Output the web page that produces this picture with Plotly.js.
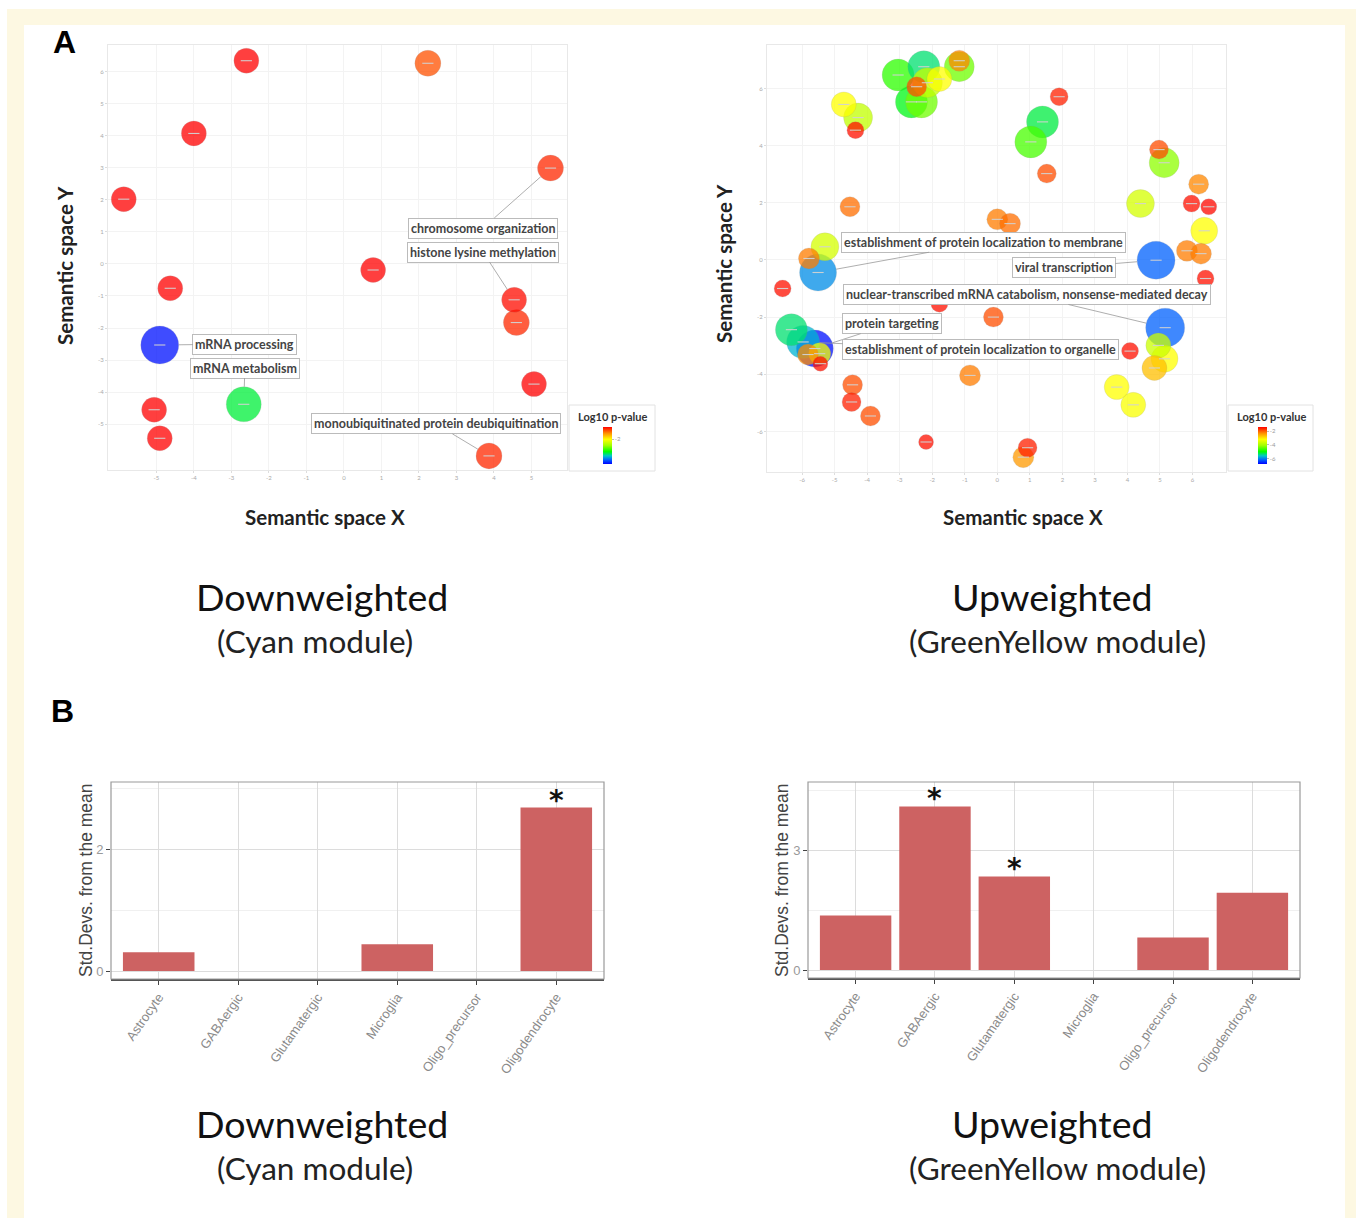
<!DOCTYPE html>
<html><head><meta charset="utf-8">
<script src="https://cdn.plot.ly/plotly-3.0.1.min.js"></script>
<style>html,body{margin:0;padding:0;background:#fff;} #chart{width:1356px;height:1218px;}</style>
</head><body><div id="chart"></div>
<script>
// ---------- Panel A, left: Downweighted (Cyan module) REVIGO terms ----------
const downX = [-2.60, 2.24, -4.00, 5.51, -5.87, 0.78, -4.63, 4.54, 4.60, -4.91, 5.07, -2.67, -5.06, -4.91, 3.87];
const downY = [6.34, 6.26, 4.07, 2.99, 2.02, -0.19, -0.76, -1.12, -1.83, -2.53, -3.75, -4.38, -4.55, -5.44, -5.99];
const downLogP = [-1.3, -1.5, -1.3, -1.4, -1.3, -1.3, -1.3, -1.33, -1.4, -3.36, -1.3, -2.77, -1.3, -1.3, -1.4];
const downLogSize = [2.5, 2.6, 2.5, 2.6, 2.5, 2.5, 2.5, 2.5, 2.6, 3.8, 2.5, 3.5, 2.5, 2.5, 2.6];
const downLabels = ["chromosome organization", "histone lysine methylation", "mRNA processing", "mRNA metabolism", "monoubiquitinated protein deubiquitination"];
const downLabelIdx = [3, 7, 9, 11, 14];

// ---------- Panel A, right: Upweighted (GreenYellow module) REVIGO terms ----------
const upX = [-3.05, -2.26, -1.17, -1.17, -1.78, -2.15, -2.48, -2.64, -2.33, -4.72, -4.28, -4.36, 1.90, 1.39, 1.03, 1.52, 4.97, 5.13, 6.19, 5.97, 6.50, 4.40, -4.53, 0.00, 0.39, 6.36, -5.30, -5.79, -5.51, 4.88, 5.83, 6.26, 6.40, -6.60, -1.78, -0.12, 5.16, -6.33, -5.97, -5.61, -5.82, -5.46, -5.44, 4.08, 4.95, 5.14, 4.83, -0.84, -4.45, -4.48, -3.90, 3.67, 4.18, -2.19, 0.93, 0.80];
const upY = [6.47, 6.76, 6.76, 6.97, 6.33, 6.20, 6.06, 5.53, 5.53, 5.44, 4.98, 4.54, 5.71, 4.83, 4.13, 3.02, 3.86, 3.40, 2.65, 1.97, 1.86, 1.97, 1.86, 1.42, 1.27, 1.02, 0.46, 0.05, -0.44, -0.01, 0.32, 0.22, -0.65, -1.00, -1.53, -2.00, -2.37, -2.44, -2.87, -3.10, -3.31, -3.28, -3.63, -3.19, -2.99, -3.46, -3.78, -4.04, -4.37, -4.97, -5.46, -4.45, -5.07, -6.37, -6.57, -6.90];
const upLogP = [-4.75, -5.34, -4.37, -2.26, -3.2, -3.78, -1.89, -5.07, -4.37, -3.2, -3.78, -1.5, -1.6, -5.2, -4.6, -1.89, -1.89, -4.2, -2.26, -1.5, -1.45, -3.6, -2.1, -2.2, -2.1, -3.2, -3.6, -2.2, -5.95, -6.2, -2.2, -2.2, -1.5, -1.5, -1.5, -1.9, -6.2, -5.34, -5.72, -6.7, -2.3, -3.3, -1.5, -1.5, -3.7, -3.2, -2.7, -2.2, -1.9, -1.6, -1.9, -3.2, -3.25, -1.5, -1.6, -2.4];
const upLogSize = [3.2, 3.2, 3.0, 2.1, 2.5, 3.0, 2.0, 3.2, 3.2, 2.5, 2.9, 1.7, 1.8, 3.2, 3.2, 1.9, 1.9, 3.0, 2.0, 1.7, 1.6, 2.8, 2.0, 2.1, 2.1, 2.7, 2.8, 2.1, 3.7, 3.8, 2.1, 2.1, 1.7, 1.7, 1.7, 2.0, 3.9, 3.2, 3.3, 3.7, 2.1, 2.2, 1.5, 1.7, 2.5, 2.7, 2.5, 2.1, 2.0, 1.9, 2.0, 2.5, 2.5, 1.5, 1.9, 2.1];
const upLabels = ["establishment of protein localization to membrane", "viral transcription", "nuclear-transcribed mRNA catabolism, nonsense-mediated decay", "protein targeting", "establishment of protein localization to organelle"];
const upLabelIdx = [28, 29, 36, 39, 38];

// ---------- Panel B: cell-type enrichment ----------
const cellTypes = ["Astrocyte", "GABAergic", "Glutamatergic", "Microglia", "Oligo_precursor", "Oligodendrocyte"];
const downSD = [0.31, 0, 0, 0.44, 0, 2.68];
const upSD = [1.36, 4.09, 2.34, 0, 0.81, 1.93];
const downSig = [false, false, false, false, false, true];
const upSig = [false, true, true, false, false, false];

// ---------- helpers (layout only) ----------
const W = 1356, H = 1218;
const px = v => v / W;
const py = v => 1 - v / H;
const SIZE_SCALE = 10;
const colorscale = [[0, '#0000ff'], [0.11, '#0060ff'], [0.22, '#00c8c8'], [0.333, '#00ff00'], [0.5, '#a0ff00'], [0.667, '#ffff00'], [0.83, '#ff9000'], [1, '#ff0000']];

function sortedBySize(xs, ys, ps, ss) {
  const idx = xs.map((_, i) => i).sort((a, b) => ss[b] - ss[a]);
  return {x: idx.map(i => xs[i]), y: idx.map(i => ys[i]), p: idx.map(i => ps[i]), s: idx.map(i => ss[i] * SIZE_SCALE)};
}
function bubbleTraces(d, xa, ya, cmin, cmax, cbx, ticks) {
  return [{
    type: 'scatter', mode: 'markers', x: d.x, y: d.y, xaxis: xa, yaxis: ya, hoverinfo: 'skip', showlegend: false,
    marker: {size: d.s, color: d.p, colorscale: colorscale, cmin: cmin, cmax: cmax, opacity: 0.75,
      line: {color: 'rgba(140,140,140,0.35)', width: 0.6},
      showscale: true,
      colorbar: {x: cbx, xanchor: 'left', y: py(445.5), yanchor: 'middle', len: 37, lenmode: 'pixels', thickness: 9,
        outlinewidth: 0, xpad: 0, ypad: 0, tickvals: ticks, ticktext: ticks.map(String), ticks: 'outside', ticklen: 2,
        tickcolor: '#bbb', tickfont: {size: 6, color: '#999', family: 'Lato'}, title: {text: ''}}}
  }, {
    type: 'scatter', mode: 'markers', x: d.x, y: d.y, xaxis: xa, yaxis: ya, hoverinfo: 'skip', showlegend: false,
    marker: {symbol: 'line-ew', size: 8, color: 'rgba(210,210,210,0.95)', line: {color: 'rgba(210,210,210,0.95)', width: 1.1}}
  }];
}

const dDown = sortedBySize(downX, downY, downLogP, downLogSize);
const dUp = sortedBySize(upX, upY, upLogP, upLogSize);

const traces = [
  ...bubbleTraces(dDown, 'x', 'y', -3.4, -1.3, px(603), [-2]),
  ...bubbleTraces(dUp, 'x2', 'y2', -6.8, -1.4, px(1258), [-2, -4, -6]),
  {type: 'bar', x: cellTypes, y: downSD, xaxis: 'x3', yaxis: 'y3', width: 0.9, marker: {color: '#cd6262'}, hoverinfo: 'skip', showlegend: false},
  {type: 'bar', x: cellTypes, y: upSD, xaxis: 'x4', yaxis: 'y4', width: 0.9, marker: {color: '#cd6262'}, hoverinfo: 'skip', showlegend: false}
];

const scatterAxis = (domain, range, tickvals) => ({
  domain: domain, range: range, tickvals: tickvals, ticktext: tickvals.map(String),
  tickfont: {size: 6, color: '#aaa', family: 'Lato'}, showgrid: true, gridcolor: '#f3f3f3', zeroline: false,
  showline: true, linecolor: '#e8e8e8', mirror: true, ticks: 'outside', ticklen: 2, tickcolor: '#ddd', fixedrange: true
});
const barX = (domain, anchor) => ({
  domain: domain, anchor: anchor, type: 'category', range: [-0.6, 5.6], tickangle: -55,
  tickfont: {family: 'Liberation Sans', size: 13, color: '#8a8a8a'}, showgrid: true, gridcolor: '#dcdcdc',
  ticks: 'outside', ticklen: 4, tickcolor: '#444', showline: true, linecolor: '#555', linewidth: 1.5, fixedrange: true
});
const barY = (domain, anchor, range, major, minor) => ({
  domain: domain, anchor: anchor, range: range, tickvals: major, ticktext: major.map(String),
  tickfont: {family: 'Liberation Sans', size: 13, color: '#999'}, showgrid: true, gridcolor: '#dcdcdc',
  minor: {tickvals: minor, showgrid: true, gridcolor: '#f0f0f0', ticks: ''},
  zeroline: false, ticks: 'outside', ticklen: 4, tickcolor: '#444', showline: false, fixedrange: true
});

const annotations = [];
function txt(text, x, y, size, opts) {
  annotations.push(Object.assign({text: text, x: px(x), y: py(y), xref: 'paper', yref: 'paper', showarrow: false,
    xanchor: 'center', yanchor: 'middle', font: {family: 'Lato', size: size, color: '#111'}}, opts || {}));
}
txt('<b>A</b>', 64, 42, 32, {font: {family: 'Liberation Sans', size: 32, color: '#000'}});
txt('<b>B</b>', 62, 711, 32, {font: {family: 'Liberation Sans', size: 32, color: '#000'}});
txt('<b>Semantic space Y</b>', 65, 266, 20.5, {textangle: -90, font: {family: 'Lato', size: 20.5, color: '#222'}});
txt('<b>Semantic space Y</b>', 724, 264, 20.5, {textangle: -90, font: {family: 'Lato', size: 20.5, color: '#222'}});
txt('<b>Semantic space X</b>', 325, 517, 20.5, {font: {family: 'Lato', size: 20.5, color: '#222'}});
txt('<b>Semantic space X</b>', 1023, 517, 20.5, {font: {family: 'Lato', size: 20.5, color: '#222'}});
txt('<b>Log10 p-value</b>', 612, 416, 11, {font: {family: 'Lato', size: 11, color: '#333'}});
txt('<b>Log10 p-value</b>', 1271, 416, 11, {font: {family: 'Lato', size: 11, color: '#333'}});
[[596, 641], [1123, 1168]].forEach(([y1, y2]) => {
  txt('Downweighted', 322, y1, 37.6);
  txt('(Cyan module)', 315, y2, 31.5, {font: {family: 'Lato', size: 31.5, color: '#222'}});
  txt('Upweighted', 1052, y1, 37.6);
  txt('(GreenYellow module)', 1057, y2, 31.5, {font: {family: 'Lato', size: 31.5, color: '#222'}});
});
txt('Std.Devs. from the mean', 86, 880, 17.5, {textangle: -90, font: {family: 'Liberation Sans', size: 17.5, color: '#444'}});
txt('Std.Devs. from the mean', 782, 880, 17.5, {textangle: -90, font: {family: 'Liberation Sans', size: 17.5, color: '#444'}});

// term labels (label box positions are layout)
const downLabelPos = [[3.71, 1.12], [3.71, 0.37], [-2.64, -2.50], [-2.64, -3.25], [2.45, -4.99]];
const upLabelPos = [[-0.41, 0.62], [2.05, -0.27], [0.90, -1.21], [-3.25, -2.23], [-0.51, -3.14]];
function termLabels(labels, idxs, pos, xs, ys, ss, xa, ya) {
  labels.forEach((t, k) => {
    const i = idxs[k];
    annotations.push({text: '<b>' + t + '</b>', x: xs[i], y: ys[i], xref: xa, yref: ya, ax: pos[k][0], ay: pos[k][1], axref: xa, ayref: ya,
      showarrow: true, arrowhead: 0, arrowwidth: 0.8, arrowcolor: '#999', standoff: ss[i] * SIZE_SCALE / 2,
      bgcolor: '#fff', bordercolor: '#bbb', borderwidth: 1, borderpad: 2,
      font: {family: 'Lato', size: 12.5, color: '#444'}});
  });
}
termLabels(downLabels, downLabelIdx, downLabelPos, downX, downY, downLogSize, 'x', 'y');
termLabels(upLabels, upLabelIdx, upLabelPos, upX, upY, upLogSize, 'x2', 'y2');

// significance stars
function stars(vals, sig, xa, ya) {
  vals.forEach((v, i) => { if (sig[i]) annotations.push({text: '<b>*</b>', x: cellTypes[i], y: v, xref: xa, yref: ya, showarrow: false,
    yanchor: 'bottom', yshift: -11, font: {family: 'DejaVu Sans', size: 28, color: '#111'}}); });
}
stars(downSD, downSig, 'x3', 'y3');
stars(upSD, upSig, 'x4', 'y4');

const shapes = [
  {type: 'rect', xref: 'paper', yref: 'paper', x0: px(7), x1: 1.01, y0: -0.01, y1: py(9), fillcolor: '#fdf8e2', line: {width: 0}, layer: 'below'},
  {type: 'rect', xref: 'paper', yref: 'paper', x0: px(24), x1: px(1345), y0: -0.01, y1: py(25), fillcolor: '#ffffff', line: {width: 0}, layer: 'below'},
  {type: 'rect', xref: 'paper', yref: 'paper', x0: px(569), x1: px(655), y0: py(471), y1: py(405), fillcolor: '#ffffff', line: {color: '#e2e2e2', width: 1}, layer: 'below'},
  {type: 'rect', xref: 'paper', yref: 'paper', x0: px(1228), x1: px(1313), y0: py(471), y1: py(405), fillcolor: '#ffffff', line: {color: '#e2e2e2', width: 1}, layer: 'below'},
  {type: 'rect', xref: 'x3 domain', yref: 'y3 domain', x0: 0, x1: 1, y0: 0, y1: 1, line: {color: '#9a9a9a', width: 1.2}},
  {type: 'rect', xref: 'x4 domain', yref: 'y4 domain', x0: 0, x1: 1, y0: 0, y1: 1, line: {color: '#9a9a9a', width: 1.2}}
];

const layout = {
  width: W, height: H, margin: {l: 0, r: 0, t: 0, b: 0}, paper_bgcolor: '#fff', plot_bgcolor: 'rgba(0,0,0,0)',
  showlegend: false, bargap: 0.1,
  xaxis: Object.assign(scatterAxis([px(108), px(567)], [-6.29, 5.95], [-5, -4, -3, -2, -1, 0, 1, 2, 3, 4, 5]), {anchor: 'y'}),
  yaxis: Object.assign(scatterAxis([py(470), py(45)], [-6.43, 6.83], [-5, -4, -3, -2, -1, 0, 1, 2, 3, 4, 5, 6]), {anchor: 'x'}),
  xaxis2: Object.assign(scatterAxis([px(767), px(1226)], [-7.08, 7.03], [-6, -5, -4, -3, -2, -1, 0, 1, 2, 3, 4, 5, 6]), {anchor: 'y2'}),
  yaxis2: Object.assign(scatterAxis([py(472), py(45)], [-7.42, 7.52], [-6, -4, -2, 0, 2, 4, 6]), {anchor: 'x2'}),
  xaxis3: barX([px(111), px(604)], 'y3'),
  yaxis3: barY([py(979), py(782)], 'x3', [-0.13, 3.1], [0, 2], [1, 3]),
  xaxis4: barX([px(808), px(1300)], 'y4'),
  yaxis4: barY([py(978), py(782)], 'x4', [-0.2, 4.7], [0, 3], [1.5, 4.5]),
  annotations: annotations, shapes: shapes
};

Plotly.newPlot('chart', traces, layout, {staticPlot: true, displayModeBar: false});
</script></body></html>
